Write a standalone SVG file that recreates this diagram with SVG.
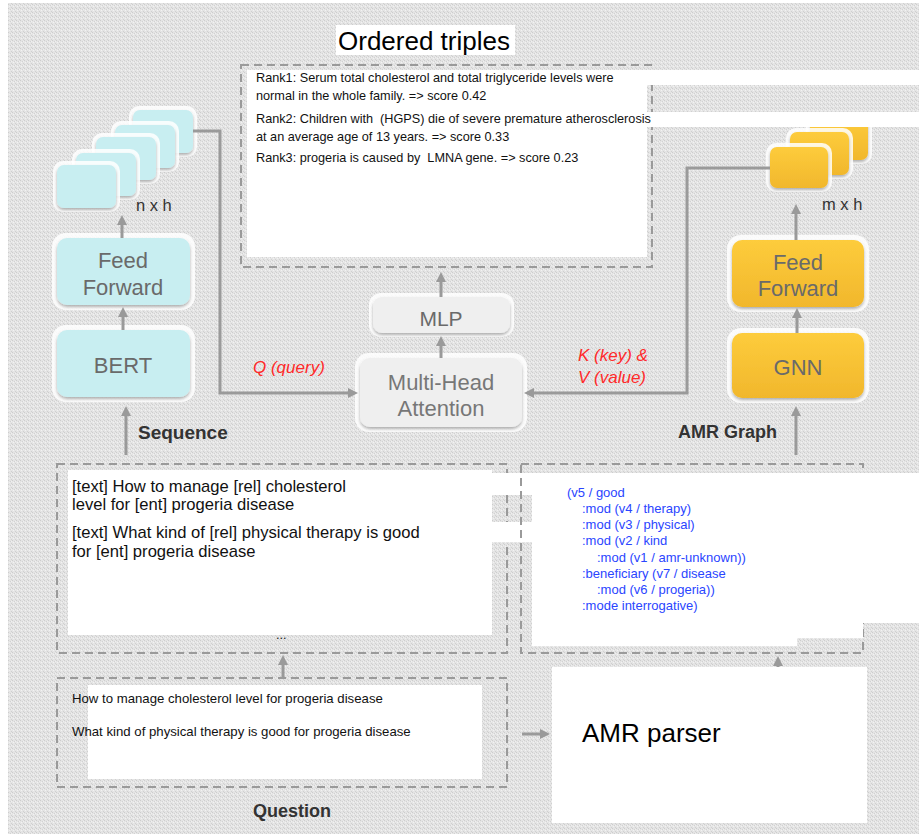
<svg xmlns="http://www.w3.org/2000/svg" width="919" height="834" viewBox="0 0 919 834">
<defs>
<pattern id="tex" width="4" height="4" patternUnits="userSpaceOnUse">
<rect width="4" height="4" fill="#e4e4e4"/>
<rect x="0" y="0" width="1" height="1" fill="#cdcdcd"/>
<rect x="2" y="1" width="1" height="1" fill="#d2d2d2"/>
<rect x="1" y="2" width="1" height="1" fill="#f2f2f2"/>
<rect x="3" y="3" width="1" height="1" fill="#d0d0d0"/>
<rect x="3" y="1" width="1" height="1" fill="#efefef"/>
</pattern>
<linearGradient id="gy" x1="0" y1="0" x2="0" y2="1">
<stop offset="0" stop-color="#fdcc3c"/>
<stop offset="1" stop-color="#f1b72c"/>
</linearGradient>
<filter id="sh" x="-10%" y="-10%" width="120%" height="130%">
<feDropShadow dx="0" dy="2" stdDeviation="1.5" flood-color="#000" flood-opacity="0.3"/>
</filter>
<marker id="ah" viewBox="0 0 10 10" refX="6" refY="5" markerWidth="10" markerHeight="10" markerUnits="userSpaceOnUse" orient="auto">
<path d="M0,0 L10,5 L0,10 z" fill="#9a9a9a"/>
</marker>
<style>
.halo{fill:#fff;opacity:.85}
.cyan{fill:#c8eef1;filter:url(#sh)}
.yel{fill:url(#gy);filter:url(#sh)}
.gry{fill:#efefef;filter:url(#sh)}
.wb{fill:#fff}
.lbl{font-family:"Liberation Sans",Arial,sans-serif;fill:#6a6a6a;font-size:22px;text-anchor:middle}
.conn{stroke:#9a9a9a;stroke-width:3;fill:none;marker-end:url(#ah)}
.dash{stroke:#9a9a9a;stroke-width:2;stroke-dasharray:8 5;fill:none}
.sm{font-family:"Liberation Sans",Arial,sans-serif;fill:#111;font-size:12.7px;white-space:pre}
.q{font-family:"Liberation Sans",Arial,sans-serif;fill:#111;font-size:13.2px}
.md{font-family:"Liberation Sans",Arial,sans-serif;fill:#111;font-size:16.6px}
.amr{font-family:"Liberation Sans",Arial,sans-serif;fill:#2a45ff;font-size:13px}
.bold{font-family:"Liberation Sans",Arial,sans-serif;fill:#333;font-size:18px;font-weight:bold}
.red{font-family:"Liberation Sans",Arial,sans-serif;fill:#ff2a2a;font-size:17px;font-style:italic}
.dim{font-family:"Liberation Sans",Arial,sans-serif;fill:#333;font-size:16.5px}
</style>
</defs>

<rect width="919" height="834" fill="#fff"/>
<rect x="8" y="3" width="911" height="831" fill="url(#tex)"/>

<g id="amr-stack">
<rect class="halo" x="806" y="113" width="66" height="51" rx="10"/>
<rect class="yel" x="810" y="117" width="58" height="43" rx="7"/>
<rect class="halo" x="786" y="128" width="67" height="51" rx="10"/>
<rect class="yel" x="790" y="132" width="59" height="43" rx="7"/>
<rect class="halo" x="766" y="143" width="66" height="49" rx="10"/>
<rect class="yel" x="770" y="147" width="58" height="41" rx="7"/>
<text class="dim" x="822" y="210">m x h</text>
</g>

<g id="triples">
<rect class="wb" x="336" y="25" width="179" height="30"/>
<text x="338" y="50" font-family="Liberation Sans, Arial, sans-serif" font-size="26" fill="#000">Ordered triples</text>
<rect class="dash" x="241" y="65" width="411" height="202"/>
<rect class="wb" x="247" y="70" width="400" height="187"/>
<rect class="wb" x="647" y="70" width="272" height="15"/>
<rect class="wb" x="647" y="112" width="272" height="15"/>
<text class="sm" x="256" y="82">Rank1: Serum total cholesterol and total triglyceride levels were</text>
<text class="sm" x="256" y="100">normal in the whole family. =&gt; score 0.42</text>
<text class="sm" x="256" y="123" xml:space="preserve">Rank2: Children with  (HGPS) die of severe premature atherosclerosis</text>
<text class="sm" x="256" y="141">at an average age of 13 years. =&gt; score 0.33</text>
<text class="sm" x="256" y="162" xml:space="preserve">Rank3: progeria is caused by  LMNA gene. =&gt; score 0.23</text>
</g>

<g id="seq-stack">
<rect class="halo" x="129" y="106" width="68" height="51" rx="10"/>
<rect class="cyan" x="133" y="110" width="60" height="43" rx="7"/>
<rect class="halo" x="111" y="121" width="68" height="51" rx="10"/>
<rect class="cyan" x="115" y="125" width="60" height="43" rx="7"/>
<rect class="halo" x="92" y="133" width="68" height="51" rx="10"/>
<rect class="cyan" x="96" y="137" width="60" height="43" rx="7"/>
<rect class="halo" x="72" y="149" width="68" height="51" rx="10"/>
<rect class="cyan" x="76" y="153" width="60" height="43" rx="7"/>
<rect class="halo" x="53" y="161" width="67" height="51" rx="10"/>
<rect class="cyan" x="57" y="165" width="59" height="43" rx="7"/>
<text class="dim" x="136" y="211">n x h</text>
</g>

<g id="seq-ff">
<rect class="halo" x="52" y="233" width="143" height="77" rx="14"/>
<rect class="cyan" x="57" y="238" width="133" height="67" rx="10"/>
<text class="lbl" x="123" y="268">Feed</text>
<text class="lbl" x="123" y="295">Forward</text>
</g>

<g id="bert">
<rect class="halo" x="52" y="325" width="143" height="77" rx="14"/>
<rect class="cyan" x="57" y="330" width="133" height="67" rx="10"/>
<text class="lbl" x="123" y="373">BERT</text>
</g>

<g id="mlp">
<rect class="halo" x="369" y="293" width="145" height="44" rx="12"/>
<rect class="gry" x="373" y="297" width="137" height="36" rx="9"/>
<text class="lbl" x="441" y="326" style="font-size:21px">MLP</text>
</g>

<g id="mha">
<rect class="halo" x="355" y="353" width="172" height="79" rx="14"/>
<rect class="gry" x="360" y="358" width="162" height="69" rx="10"/>
<text class="lbl" x="441" y="390" style="fill:#777">Multi-Head</text>
<text class="lbl" x="441" y="416" style="fill:#777">Attention</text>
</g>

<g id="amr-ff">
<rect class="halo" x="727" y="235" width="142" height="77" rx="14"/>
<rect class="yel" x="732" y="240" width="132" height="67" rx="10"/>
<text class="lbl" x="798" y="270">Feed</text>
<text class="lbl" x="798" y="296">Forward</text>
</g>

<g id="gnn">
<rect class="halo" x="727" y="328" width="142" height="75" rx="14"/>
<rect class="yel" x="732" y="333" width="132" height="65" rx="10"/>
<text class="lbl" x="798" y="375">GNN</text>
</g>

<g id="sequence">
<rect class="dash" x="57" y="464" width="450" height="189"/>
<rect class="wb" x="68" y="470" width="424" height="165"/>
<rect class="wb" x="492" y="473" width="40" height="22"/>
<rect class="wb" x="492" y="522" width="40" height="20"/>
<text class="md" x="72" y="492">[text] How to manage [rel] cholesterol</text>
<text class="md" x="72" y="510">level for [ent] progeria disease</text>
<text class="md" x="72" y="538">[text] What kind of [rel] physical therapy is good</text>
<text class="md" x="72" y="557">for [ent] progeria disease</text>
<text class="sm" x="276" y="639">...</text>
<text class="bold" x="138" y="439" style="font-size:19px">Sequence</text>
</g>

<g id="amr-graph">
<rect class="dash" x="521" y="464" width="342" height="189"/>
<polygon class="wb" points="532,473 919,473 919,623 863,623 863,638 797,638 797,646 532,646"/>
<text class="amr" x="567" y="497">(v5 / good</text>
<text class="amr" x="582" y="513">:mod (v4 / therapy)</text>
<text class="amr" x="582" y="529">:mod (v3 / physical)</text>
<text class="amr" x="582" y="545">:mod (v2 / kind</text>
<text class="amr" x="597" y="562">:mod (v1 / amr-unknown))</text>
<text class="amr" x="582" y="578">:beneficiary (v7 / disease</text>
<text class="amr" x="597" y="594">:mod (v6 / progeria))</text>
<text class="amr" x="582" y="610">:mode interrogative)</text>
<text class="bold" x="678" y="438">AMR Graph</text>
</g>

<g id="question">
<rect class="dash" x="57" y="678" width="450" height="109"/>
<rect class="wb" x="88" y="685" width="394" height="94"/>
<text class="q" x="72" y="703">How to manage cholesterol level for progeria disease</text>
<text class="q" x="72" y="736">What kind of physical therapy is good for progeria disease</text>
<text class="bold" x="253" y="817">Question</text>
</g>

<g id="amr-parser">
<rect class="wb" x="552" y="667" width="315" height="156"/>
<text x="582" y="742" font-family="Liberation Sans, Arial, sans-serif" font-size="26" fill="#000">AMR parser</text>
</g>

<g id="connectors">
<path class="conn" d="M193,131 H220 V393 H354"/>
<path class="conn" d="M770,168 H687 V393 H528"/>
<path class="conn" d="M122,238 V219"/>
<path class="conn" d="M123,330 V311"/>
<path class="conn" d="M126,455 V410"/>
<path class="conn" d="M441,358 V340"/>
<path class="conn" d="M441,297 V276"/>
<path class="conn" d="M796,240 V208"/>
<path class="conn" d="M797,333 V312"/>
<path class="conn" d="M796,455 V410"/>
<path class="conn" d="M283,678 V659"/>
<path class="conn" d="M522,734 H546"/>
<path class="conn" d="M778,667 V660"/>
<text class="red" x="253" y="373">Q (query)</text>
<text class="red" x="578" y="361">K (key) &amp;</text>
<text class="red" x="578" y="383">V (value)</text>
</g>
</svg>
